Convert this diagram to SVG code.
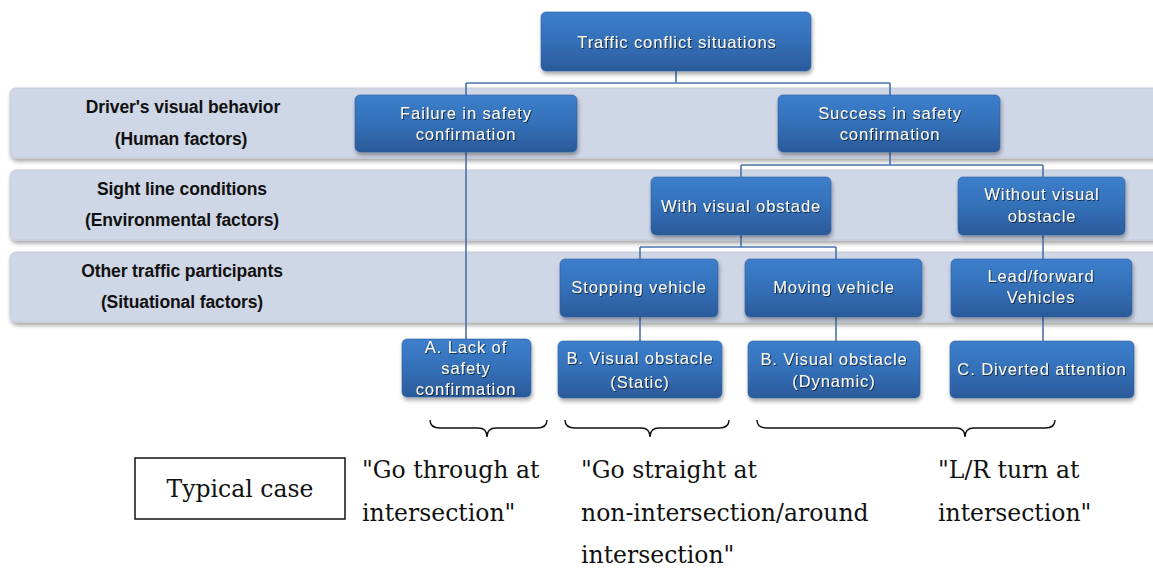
<svg xmlns="http://www.w3.org/2000/svg" width="1153" height="570" viewBox="0 0 1153 570">
  <defs>
    <linearGradient id="nodeFill" x1="0" y1="0" x2="0" y2="1">
      <stop offset="0" stop-color="#3d7fcc"/>
      <stop offset="0.5" stop-color="#3470b8"/>
      <stop offset="1" stop-color="#2b5a9a"/>
    </linearGradient>
    <filter id="shadow" x="-10%" y="-10%" width="120%" height="140%">
      <feGaussianBlur in="SourceAlpha" stdDeviation="2"/>
      <feOffset dx="1" dy="3" result="b"/>
      <feComponentTransfer><feFuncA type="linear" slope="0.35"/></feComponentTransfer>
      <feMerge><feMergeNode/><feMergeNode in="SourceGraphic"/></feMerge>
    </filter>
    <filter id="txtShadow" x="-5%" y="-20%" width="110%" height="160%">
      <feGaussianBlur in="SourceAlpha" stdDeviation="0.6"/>
      <feOffset dx="0.8" dy="0.8" result="s"/>
      <feComponentTransfer><feFuncA type="linear" slope="0.6"/></feComponentTransfer>
      <feMerge><feMergeNode/><feMergeNode in="SourceGraphic"/></feMerge>
    </filter>
  </defs>
  <style>
    .band { fill: #cfd6e6; stroke: #c4cbd9; stroke-width: 1; }
    .node rect { fill: url(#nodeFill); stroke: #2f5f9e; stroke-width: 0.6; }
    .node text { font-family: "Liberation Sans", Arial, sans-serif; font-size: 16.5px; fill: #fbf8ee; text-anchor: middle; letter-spacing: 0.9px; }
    .lbl { font-family: "Liberation Sans", Arial, sans-serif; font-size: 17.5px; font-weight: bold; fill: #111111; text-anchor: middle; letter-spacing: -0.1px; }
    .conn { fill: none; stroke: #4a73aa; stroke-width: 1.6; }
    .brace { fill: none; stroke: #111111; stroke-width: 1.4; }
    .case { font-family: "DejaVu Serif", "Liberation Serif", serif; font-size: 23.5px; fill: #111111; }
  </style>

  <rect width="1153" height="570" fill="#ffffff"/>

  <!-- factor bands -->
  <g id="bands" filter="url(#shadow)">
    <rect class="band" x="10" y="88" width="1150" height="70" rx="6"/>
    <rect class="band" x="10" y="170" width="1150" height="70" rx="6"/>
    <rect class="band" x="10" y="252" width="1150" height="70" rx="6"/>
  </g>
  <g id="band-labels">
    <text class="lbl" x="183" y="113">Driver's visual behavior</text>
    <text class="lbl" x="181" y="145">(Human factors)</text>
    <text class="lbl" x="182" y="195">Sight line conditions</text>
    <text class="lbl" x="182" y="226">(Environmental factors)</text>
    <text class="lbl" x="182" y="277">Other traffic participants</text>
    <text class="lbl" x="182" y="308">(Situational factors)</text>
  </g>

  <!-- connectors -->
  <g id="connectors">
    <path class="conn" d="M676 71 V83 M466 83 H890 M466 83 V340 M890 83 V96"/>
    <path class="conn" d="M890 152 V165 M741 165 H1043 M741 165 V178 M1043 165 V178"/>
    <path class="conn" d="M741 235 V247 M640 247 H836 M640 247 V260 M836 247 V260"/>
    <path class="conn" d="M1043 235 V260"/>
    <path class="conn" d="M640 317 V342 M836 317 V342 M1043 317 V342"/>
  </g>

  <!-- nodes -->
  <g id="n-root" class="node" filter="url(#shadow)">
    <rect x="541" y="12" width="270" height="59" rx="5"/>
    <text x="677" y="48" filter="url(#txtShadow)">Traffic conflict situations</text>
  </g>
  <g id="n-failure" class="node" filter="url(#shadow)">
    <rect x="355" y="95" width="222" height="57" rx="5"/>
    <text x="466" y="119" filter="url(#txtShadow)">Failure in safety</text>
    <text x="466" y="140" filter="url(#txtShadow)">confirmation</text>
  </g>
  <g id="n-success" class="node" filter="url(#shadow)">
    <rect x="778" y="95" width="222" height="57" rx="5"/>
    <text x="890" y="119" filter="url(#txtShadow)">Success in safety</text>
    <text x="890" y="140" filter="url(#txtShadow)">confirmation</text>
  </g>
  <g id="n-with" class="node" filter="url(#shadow)">
    <rect x="651" y="177" width="180" height="58" rx="5"/>
    <text x="741" y="212" filter="url(#txtShadow)">With visual obstade</text>
  </g>
  <g id="n-without" class="node" filter="url(#shadow)">
    <rect x="958" y="177" width="167" height="58" rx="5"/>
    <text x="1042" y="200" filter="url(#txtShadow)">Without visual</text>
    <text x="1042" y="222" filter="url(#txtShadow)">obstacle</text>
  </g>
  <g id="n-stopping" class="node" filter="url(#shadow)">
    <rect x="560" y="259" width="158" height="58" rx="5"/>
    <text x="639" y="293" filter="url(#txtShadow)">Stopping vehicle</text>
  </g>
  <g id="n-moving" class="node" filter="url(#shadow)">
    <rect x="745" y="259" width="177" height="58" rx="5"/>
    <text x="834" y="293" filter="url(#txtShadow)">Moving vehicle</text>
  </g>
  <g id="n-lead" class="node" filter="url(#shadow)">
    <rect x="951" y="259" width="181" height="58" rx="5"/>
    <text x="1041" y="282" filter="url(#txtShadow)">Lead/forward</text>
    <text x="1041" y="303" filter="url(#txtShadow)">Vehicles</text>
  </g>
  <g id="n-a" class="node" filter="url(#shadow)">
    <rect x="402" y="339" width="129" height="58" rx="5"/>
    <text x="466" y="353" filter="url(#txtShadow)">A.  Lack of</text>
    <text x="466" y="374" filter="url(#txtShadow)">safety</text>
    <text x="466" y="395" filter="url(#txtShadow)">confirmation</text>
  </g>
  <g id="n-b-static" class="node" filter="url(#shadow)">
    <rect x="558" y="341" width="164" height="57" rx="5"/>
    <text x="640" y="364" filter="url(#txtShadow)">B.  Visual obstacle</text>
    <text x="640" y="388" filter="url(#txtShadow)">(Static)</text>
  </g>
  <g id="n-b-dynamic" class="node" filter="url(#shadow)">
    <rect x="748" y="341" width="172" height="57" rx="5"/>
    <text x="834" y="365" filter="url(#txtShadow)">B.  Visual obstacle</text>
    <text x="834" y="387" filter="url(#txtShadow)">(Dynamic)</text>
  </g>
  <g id="n-c" class="node" filter="url(#shadow)">
    <rect x="950" y="341" width="184" height="57" rx="5"/>
    <text x="1042" y="375" filter="url(#txtShadow)">C. Diverted attention</text>
  </g>

  <!-- grouping braces -->
  <g id="braces">
    <path class="brace" d="M430 420 Q430 428 440 428 H478 Q487 428 487 437 Q487 428 496 428 H537 Q547 428 547 420"/>
    <path class="brace" d="M565 420 Q565 428 575 428 H641 Q650 428 650 437 Q650 428 659 428 H719 Q729 428 729 420"/>
    <path class="brace" d="M757 420 Q757 428 767 428 H956 Q965 428 965 437 Q965 428 974 428 H1045 Q1055 428 1055 420"/>
  </g>

  <!-- typical cases -->
  <g id="typical-case">
    <rect x="135" y="458" width="210" height="61" fill="#ffffff" stroke="#111111" stroke-width="1.5"/>
    <text class="case" x="240" y="497" text-anchor="middle">Typical case</text>
  </g>
  <g id="case-texts">
    <text class="case" x="362" y="478">"Go through at</text>
    <text class="case" x="362" y="521">intersection"</text>
    <text class="case" x="581" y="478">"Go straight at</text>
    <text class="case" x="581" y="521">non-intersection/around</text>
    <text class="case" x="581" y="563">intersection"</text>
    <text class="case" x="938" y="478">"L/R turn at</text>
    <text class="case" x="938" y="521">intersection"</text>
  </g>
</svg>
